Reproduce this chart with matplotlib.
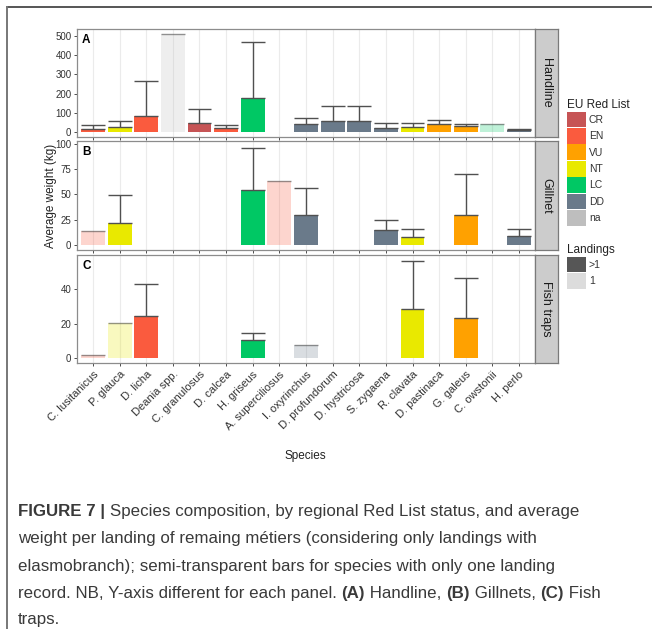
import numpy as np
import matplotlib
matplotlib.use("Agg")
import matplotlib.pyplot as plt
from matplotlib.patches import Patch

plt.rcParams['font.family'] = ['Liberation Sans', 'DejaVu Sans']

species = ["C. lusitanicus", "P. glauca", "D. licha", "Deania spp.", "C. granulosus",
           "D. calcea", "H. griseus", "A. superciliosus", "I. oxyrinchus", "D. profundorum",
           "D. hystricosa", "S. zygaena", "R. clavata", "D. pastinaca", "G. galeus",
           "C. owstonii", "H. perlo"]

nan = np.nan
# Handline
hl_mean = [14, 28, 85, 512, 47, 23, 176, nan, 40, 56, 57, 23, 24, 40, 30, 40, 10]
hl_upper = [35, 56, 265, nan, 122, 38, 470, nan, 73, 134, 134, 47, 47, 64, 44, nan, 18]
hl_status = ["EN", "NT", "EN", "na", "CR", "EN", "LC", None, "DD", "DD", "DD", "DD",
             "NT", "VU", "VU", "LC", "DD"]
hl_single = [0, 0, 0, 1, 0, 0, 0, 0, 0, 0, 0, 0, 0, 0, 0, 1, 0]
# Gillnet
gn_mean = [14, 21.5, nan, nan, nan, nan, 54, 63, 30, nan, nan, 15, 7.6, nan, 30, nan, 9]
gn_upper = [nan, 49.5, nan, nan, nan, nan, 96, nan, 56, nan, nan, 25, 15.5, nan, 70, nan, 16]
gn_status = ["EN", "NT", None, None, None, None, "LC", "EN", "DD", None, None, "DD",
             "NT", None, "VU", None, "DD"]
gn_single = [1, 0, 0, 0, 0, 0, 0, 1, 0, 0, 0, 0, 0, 0, 0, 0, 0]
# Fish traps
ft_mean = [1.6, 20.2, 24.3, nan, nan, nan, 10.5, nan, 7.6, nan, nan, nan, 28.2, nan, 23.3, nan, nan]
ft_upper = [nan, nan, 43, nan, nan, nan, 14.4, nan, nan, nan, nan, nan, 56.3, nan, 46.2, nan, nan]
ft_status = ["EN", "NT", "EN", None, None, None, "LC", None, "DD", None, None, None,
             "NT", None, "VU", None, None]
ft_single = [1, 1, 0, 0, 0, 0, 0, 0, 1, 0, 0, 0, 0, 0, 0, 0, 0]

status_levels = ["CR", "EN", "VU", "NT", "LC", "DD", "na"]
status_colors = {"CR": "#C65455", "EN": "#FA5B3E", "VU": "#FFA100", "NT": "#E9E900",
                 "LC": "#00C864", "DD": "#6A7A8A", "na": "#BEBEBE"}
landing_levels = [">1", "1"]
landing_colors = {">1": "#565656", "1": "#DCDCDC"}

panels = [
    ("A", "Handline", hl_mean, hl_upper, hl_status, hl_single, (-26, 536), [0, 100, 200, 300, 400, 500]),
    ("B", "Gillnet", gn_mean, gn_upper, gn_status, gn_single, (-5, 102.5), [0, 25, 50, 75, 100]),
    ("C", "Fish traps", ft_mean, ft_upper, ft_status, ft_single, (-2.9, 59.8), [0, 20, 40]),
]

W, H = 655, 629
fig = plt.figure(figsize=(W / 100, H / 100), dpi=100)

def fx(px):
    return px / W

def fy(py):
    return 1 - py / H

panel_px = [(29, 137), (141, 250), (255, 363)]
left_px, right_px, strip_r = 77, 535, 558
x = np.arange(1, len(species) + 1)
err_col = "#505050"
tick_col = "#4D4D4D"

axes = []
for (lab, strip, mean, upper, status, single, ylim, yt), (t, b) in zip(panels, panel_px):
    ax = fig.add_axes([fx(left_px), fy(b), fx(right_px - left_px), (b - t) / H])
    axes.append(ax)
    ax.set_xlim(0.4, 17.6)
    ax.set_ylim(*ylim)
    ax.set_xticks(x)
    ax.grid(axis="x", color="#EBEBEB", lw=0.8, zorder=0)
    ax.set_axisbelow(True)
    for xi, m, u, s, sg in zip(x, mean, upper, status, single):
        if s is None or np.isnan(m):
            continue
        a = 0.25 if sg else 1.0
        ax.bar(xi, m, width=0.9, color=status_colors[s], alpha=a, zorder=2, linewidth=0)
        ax.hlines(m, xi - 0.45, xi + 0.45, color=err_col, lw=1.0, alpha=(0.6 if sg else 1.0), zorder=3)
        if not np.isnan(u):
            ax.vlines(xi, m, u, color=err_col, lw=1.0, zorder=3)
            ax.hlines(u, xi - 0.45, xi + 0.45, color=err_col, lw=1.0, zorder=3)
    ax.set_yticks(yt)
    ax.tick_params(axis="y", labelsize=7, colors=tick_col, length=2.5, width=0.7, pad=1.5)
    for tl in ax.get_yticklabels():
        tl.set_color("#333333")
    ax.tick_params(axis="x", length=2.5, width=0.7, colors=tick_col)
    for sp in ax.spines.values():
        sp.set_color("#8C8C8C")
        sp.set_linewidth(0.9)
    ax.text(0.011, 0.95, lab, transform=ax.transAxes, fontsize=8.5, fontweight="bold",
            va="top", ha="left", color="black")
    # strip
    sax = fig.add_axes([fx(right_px), fy(b), fx(strip_r - right_px), (b - t) / H])
    sax.set_facecolor("#CCCCCC")
    sax.set_xticks([])
    sax.set_yticks([])
    for sp in sax.spines.values():
        sp.set_color("#7A7A7A")
        sp.set_linewidth(0.9)
    sax.text(0.5, 0.5, strip, rotation=-90, ha="center", va="center", fontsize=9,
             color="#1A1A1A", transform=sax.transAxes)

for ax in axes[:-1]:
    ax.set_xticklabels([])
axes[-1].set_xticklabels(species, rotation=45, ha="right", va="top",
                         rotation_mode="anchor", fontsize=8, color="#333333")
axes[-1].tick_params(axis="x", pad=2)

fig.text(fx(305), fy(456), "Species", ha="center", va="center", fontsize=8.5, color="#222222")
fig.text(fx(51), fy(196), "Average weight (kg)", ha="center", va="center", rotation=90,
         fontsize=8.5, color="#222222")

# legends
leg_kw = dict(loc="upper left", frameon=False, fontsize=7.5, title_fontsize=8.5,
              handlelength=1.8, handleheight=1.95, labelspacing=0.06,
              handletextpad=0.3, borderpad=0, borderaxespad=0, alignment="left")
h1 = [Patch(facecolor=status_colors[s], edgecolor="none") for s in status_levels]
leg1 = fig.legend(h1, status_levels, bbox_to_anchor=(fx(567), fy(99)),
                  title="EU Red List", **leg_kw)
h2 = [Patch(facecolor=landing_colors[s], edgecolor="none") for s in landing_levels]
leg2 = fig.legend(h2, landing_levels, bbox_to_anchor=(fx(567), fy(244)),
                  title="Landings", **leg_kw)
for lg in (leg1, leg2):
    for t in lg.get_texts():
        t.set_color("#333333")
    lg.get_title().set_color("#222222")

# caption
cax = fig.add_axes([0, 0, 1, 1], facecolor="none")
cax.set_xlim(0, W)
cax.set_ylim(H, 0)
cax.axis("off")
cap_size = 12.2
cap_col = "#3A3A3A"
lines = [
    [("FIGURE 7 | ", "bold"), ("Species composition, by regional Red List status, and average", "normal")],
    [("weight per landing of remaing métiers (considering only landings with", "normal")],
    [("elasmobranch); semi-transparent bars for species with only one landing", "normal")],
    [("record. NB, Y-axis different for each panel. ", "normal"), ("(A)", "bold"),
     (" Handline, ", "normal"), ("(B)", "bold"), (" Gillnets, ", "normal"), ("(C)", "bold"),
     (" Fish", "normal")],
    [("traps.", "normal")],
]
baselines = [516, 543, 571, 598, 624]
for segs, yb in zip(lines, baselines):
    prev = None
    for txt, wt in segs:
        if prev is None:
            prev = cax.text(18, yb, txt, fontsize=cap_size, fontweight=wt, color=cap_col,
                            ha="left", va="baseline")
        else:
            prev = cax.annotate(txt, xy=(1, 0), xycoords=prev, ha="left", va="bottom",
                                fontsize=cap_size, fontweight=wt, color=cap_col)

# frame lines
cax.plot([7, 651], [6.5, 6.5], color="#555555", lw=1.4, clip_on=False)
cax.plot([7, 7], [6.5, 629], color="#777777", lw=1.4, clip_on=False)

fig.savefig("out.png", dpi=100)
